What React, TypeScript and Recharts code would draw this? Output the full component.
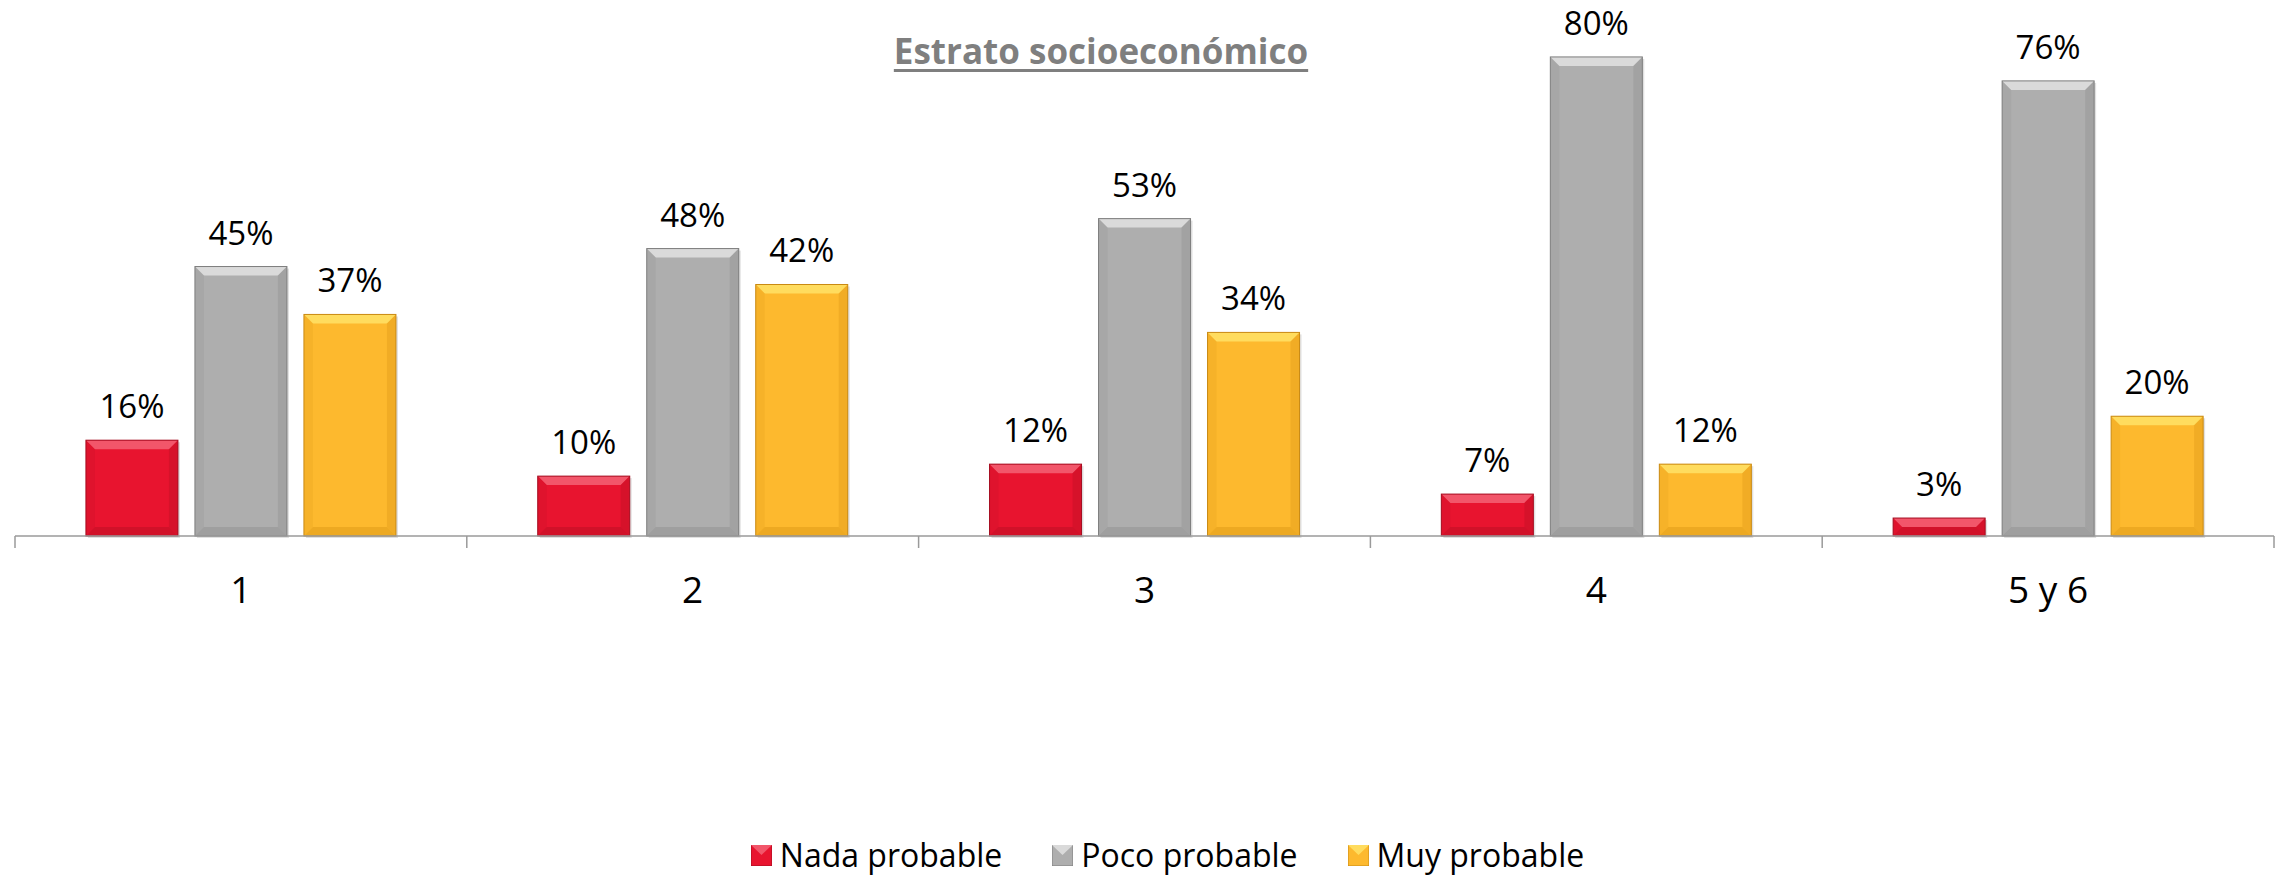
import React from 'react'
import { BarChart, Bar, XAxis, YAxis, Legend, LabelList } from 'recharts'

const categories = ['1', '2', '3', '4', '5 y 6']
const nadaProbable = [16, 10, 12, 7, 3]
const pocoProbable = [45, 48, 53, 80, 76]
const muyProbable = [37, 42, 34, 12, 20]
const seriesOrder = ['nada', 'poco', 'muy']

const data = categories.map((c, i) => ({
  estrato: c,
  nada: nadaProbable[i],
  poco: pocoProbable[i],
  muy: muyProbable[i],
}))

const FONT = '"Open Sans", sans-serif'

const palette: Record<string, { base: string; light: string; dark: string; edge: string }> = {
  nada: { base: '#E8142F', light: '#F2566A', dark: '#C20F26', edge: '#A50D20' },
  poco: { base: '#AEAEAE', light: '#DADADA', dark: '#959595', edge: '#7E7E7E' },
  muy: { base: '#FDB92E', light: '#FFDC5E', dark: '#E39E1B', edge: '#C98A14' },
}

// bar with a small bevel, like the office 3d preset
const bevelBar = (key: string) => (props: any) => {
  const { x, y, width: w, height: h } = props
  if (!h || h <= 0) return <g />
  const c = palette[key]
  const b = Math.min(9, h / 2)
  return (
    <g>
      <rect x={x + 2} y={y + 2} width={w} height={h} fill="rgba(0,0,0,0.12)" />
      <rect x={x} y={y} width={w} height={h} fill={c.base} />
      <polygon points={`${x},${y} ${x + w},${y} ${x + w - b},${y + b} ${x + b},${y + b}`} fill={c.light} />
      <polygon points={`${x},${y} ${x + b},${y + b} ${x + b},${y + h - b} ${x},${y + h}`} fill={c.dark} opacity={0.25} />
      <polygon points={`${x + w},${y} ${x + w - b},${y + b} ${x + w - b},${y + h - b} ${x + w},${y + h}`} fill={c.dark} opacity={0.45} />
      <polygon points={`${x},${y + h} ${x + b},${y + h - b} ${x + w - b},${y + h - b} ${x + w},${y + h}`} fill={c.dark} opacity={0.6} />
      <rect x={x} y={y} width={w} height={h} fill="none" stroke={c.edge} strokeWidth={1} />
    </g>
  )
}

const CategoryTick = (props: any) => {
  const { x, y, payload } = props
  const off = payload && payload.offset ? payload.offset : 0
  return (
    <g>
      {off ? <line x1={x - off} y1={y} x2={x - off} y2={y + 12} stroke="#9A9A9A" strokeWidth={1.5} /> : null}
      {off && payload.index === categories.length - 1 ? (
        <line x1={x + off} y1={y} x2={x + off} y2={y + 12} stroke="#9A9A9A" strokeWidth={1.5} />
      ) : null}
      <text x={x} y={y + 52} textAnchor="middle" dominantBaseline="central" fontSize={37} fill="#000" fontFamily={FONT}>
        {payload.value}
      </text>
    </g>
  )
}

const LegendContent = (props: any) => {
  const items = [...(props.payload || [])].sort(
    (a: any, b: any) => seriesOrder.indexOf(a.dataKey) - seriesOrder.indexOf(b.dataKey)
  )
  return (
    <div style={{ display: 'flex', justifyContent: 'center', alignItems: 'center', paddingLeft: 46, fontFamily: FONT }}>
      {items.map((p: any, i: number) => {
        const c = palette[p.dataKey]
        return (
          <div key={i} style={{ display: 'flex', alignItems: 'center', marginRight: i < 2 ? 50 : 0 }}>
            <svg width={21} height={21} style={{ marginRight: 8 }}>
              <rect x={0} y={0} width={21} height={21} fill={c.base} stroke={c.edge} />
              <polygon points="0,0 21,0 10.5,10" fill={c.light} />
            </svg>
            <span style={{ fontSize: 32, color: '#000', lineHeight: '40px' }}>{p.value}</span>
          </div>
        )
      })}
    </div>
  )
}

const pct = (v: any) => `${v}%`

export default function App() {
  return (
    <div style={{ position: 'absolute', left: 0, top: 0, width: 2290, height: 875, background: '#fff', fontFamily: FONT }}>
      <div
        style={{
          position: 'absolute',
          left: 0,
          width: 2202,
          top: 28,
          textAlign: 'center',
          fontSize: 35,
          fontWeight: 700,
          color: '#7F7F7F',
          textDecoration: 'underline',
          textUnderlineOffset: 5,
          lineHeight: '46px',
        }}
      >
        Estrato socioeconómico
      </div>
      <BarChart
        width={2290}
        height={875}
        data={data}
        margin={{ top: 27, right: 16, left: 15, bottom: 0 }}
        barGap={17}
        barCategoryGap="15.7%"
      >
        <YAxis hide domain={[0, 85]} />
        <XAxis
          dataKey="estrato"
          height={299}
          tickSize={0}
          tickMargin={0}
          tickLine={false}
          axisLine={{ stroke: '#9A9A9A', strokeWidth: 1.5 }}
          tick={<CategoryTick />}
          interval={0}
        />
        <Legend verticalAlign="bottom" height={40} content={<LegendContent />} />
        <Bar dataKey="nada" name="Nada probable" fill={palette.nada.base} shape={bevelBar('nada')} isAnimationActive={false}>
          <LabelList dataKey="nada" position="top" offset={22} formatter={pct} fontSize={33} fill="#000" fontFamily={FONT} />
        </Bar>
        <Bar dataKey="poco" name="Poco probable" fill={palette.poco.base} shape={bevelBar('poco')} isAnimationActive={false}>
          <LabelList dataKey="poco" position="top" offset={22} formatter={pct} fontSize={33} fill="#000" fontFamily={FONT} />
        </Bar>
        <Bar dataKey="muy" name="Muy probable" fill={palette.muy.base} shape={bevelBar('muy')} isAnimationActive={false}>
          <LabelList dataKey="muy" position="top" offset={22} formatter={pct} fontSize={33} fill="#000" fontFamily={FONT} />
        </Bar>
      </BarChart>
    </div>
  )
}
